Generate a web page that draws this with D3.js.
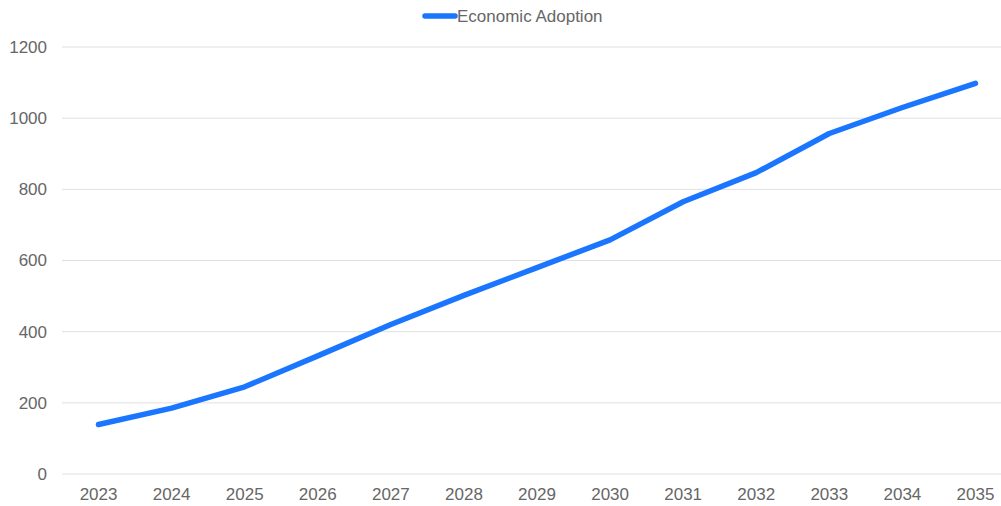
<!DOCTYPE html>
<html>
<head>
<meta charset="utf-8">
<script src="https://cdn.jsdelivr.net/npm/d3@7"></script>
<style>
  html, body { margin: 0; padding: 0; background: #fff; overflow: hidden; }
  svg { display: block; font-family: "Liberation Sans", Arial, sans-serif; }
</style>
</head>
<body>
<svg id="chart" width="1001" height="506"></svg>
<script>
// Projected economic adoption by year
const years = ["2023", "2024", "2025", "2026", "2027", "2028", "2029",
               "2030", "2031", "2032", "2033", "2034", "2035"];
const adoption = [139, 185, 245, 332, 420, 502, 580, 658, 765, 847, 957, 1030, 1098];
const yTicks = [0, 200, 400, 600, 800, 1000, 1200];
const seriesName = "Economic Adoption";

const svg = d3.select("#chart");
const lineColor = "#1a76ff";
const textColor = "#666";
const fontSize = "17px";

const x = d3.scaleBand().domain(years).range([62, 1012]);
const y = d3.scaleLinear().domain([0, 1200]).range([474, 47]);

// horizontal gridlines
svg.append("g")
  .selectAll("line")
  .data(yTicks)
  .join("line")
  .attr("x1", 62).attr("x2", 1012)
  .attr("y1", d => y(d)).attr("y2", d => y(d))
  .attr("stroke", "#e0e0e0")
  .attr("stroke-width", 1);

// y axis labels
const yAxis = svg.append("g")
  .attr("transform", "translate(62,0)")
  .call(d3.axisLeft(y).tickValues(yTicks).tickFormat(d3.format("d")).tickSize(0).tickPadding(15));
yAxis.select(".domain").remove();
yAxis.selectAll("text")
  .attr("fill", textColor)
  .style("font-size", fontSize)
  .style("font-family", "'Liberation Sans', Arial, sans-serif");

// x axis labels
const xAxis = svg.append("g")
  .attr("transform", "translate(0,474)")
  .call(d3.axisBottom(x).tickSize(0).tickPadding(14));
xAxis.select(".domain").remove();
xAxis.selectAll("text")
  .attr("fill", textColor)
  .style("font-size", fontSize)
  .style("font-family", "'Liberation Sans', Arial, sans-serif");

// series line
const line = d3.line()
  .x((d, i) => x(years[i]) + x.bandwidth() / 2)
  .y(d => y(d));

svg.append("path")
  .datum(adoption)
  .attr("d", line)
  .attr("fill", "none")
  .attr("stroke", lineColor)
  .attr("stroke-width", 5.5)
  .attr("stroke-linecap", "round")
  .attr("stroke-linejoin", "round");

// legend
const legend = svg.append("g");
legend.append("line")
  .attr("x1", 425).attr("x2", 455)
  .attr("y1", 16).attr("y2", 16)
  .attr("stroke", lineColor)
  .attr("stroke-width", 5.5)
  .attr("stroke-linecap", "round");
legend.append("text")
  .attr("x", 457).attr("y", 22)
  .attr("fill", textColor)
  .style("font-size", fontSize)
  .text(seriesName);
</script>
</body>
</html>
